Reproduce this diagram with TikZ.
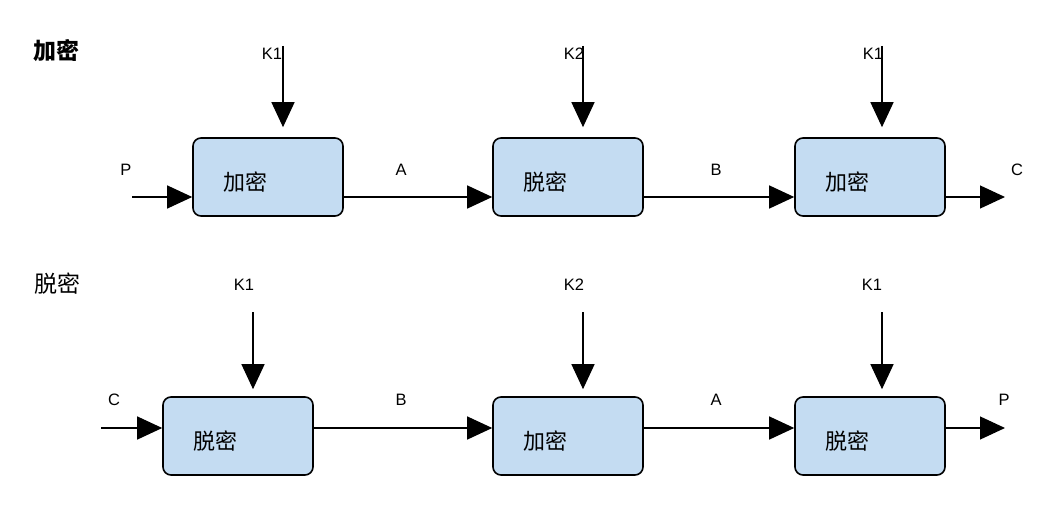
\documentclass[tikz,border=0pt]{standalone}
\usepackage{fontspec}
\setmainfont{Liberation Sans}
\newfontfamily\cjk{Noto Sans CJK SC}
\usetikzlibrary{arrows.meta,positioning}
\definecolor{INK}{HTML}{000000}
\definecolor{BOXFILL}{HTML}{C4DCF2}

\begin{document}
\begin{tikzpicture}[x=1pt,y=-1pt]
\tikzset{blk/.style={draw=INK,line width=1.6pt,fill=BOXFILL,rounded corners=8pt,minimum width=150pt,minimum height=78pt,inner sep=0pt},
 cn/.style={font=\cjk\fontsize{22}{24}\selectfont,inner sep=0pt},
 lbl/.style={font=\fontsize{16.5}{18}\selectfont,inner sep=0pt},
 arr/.style={-{Triangle[length=25pt,width=23pt]},line width=1.2pt,INK}}
\useasboundingbox (0,0) rectangle (1060,505);
% row titles
\node[cn,font=\cjk\bfseries\fontsize{23}{25}\selectfont] (enc) at (56,51) {加密};
\node[cn,font=\cjk\fontsize{23}{25}\selectfont] (dec) at (57,284) {脱密};
% encryption row
\node[blk] (e1) at (268,177) {};
\node[blk] (e2) at (568,177) {};
\node[blk] (e3) at (870,177) {};
\node[cn] (e1t) at ([shift={(-23,5)}]e1.center) {加密};
\node[cn] (e2t) at ([shift={(-23,5)}]e2.center) {脱密};
\node[cn] (e3t) at ([shift={(-23,5)}]e3.center) {加密};
\node[lbl] (ek1) at (272,54) {K1};
\node[lbl] (ek2) at (574,54) {K2};
\node[lbl] (ek3) at (873,54) {K1};
\node[lbl] (ep) at (126,170) {P};
\node[lbl] (ea) at (401,170) {A};
\node[lbl] (eb) at (716,170) {B};
\node[lbl] (ec) at (1017,170) {C};
\coordinate (es1) at (283,46);
\coordinate (es2) at (583,46);
\coordinate (es3) at (882,46);
\coordinate (ein) at (132,197);
\coordinate (eout) at (1005,197);
\draw[arr,shorten >=10pt] (es1) -- (es1 |- e1.north);
\draw[arr,shorten >=10pt] (es2) -- (es2 |- e2.north);
\draw[arr,shorten >=10pt] (es3) -- (es3 |- e3.north);
\draw[arr] (ein) -- (ein -| e1.west);
\draw[arr] ([yshift=-20pt]e1.east) -- ([yshift=-20pt]e2.west);
\draw[arr] ([yshift=-20pt]e2.east) -- ([yshift=-20pt]e3.west);
\draw[arr] (eout -| e3.east) -- (eout);
% decryption row
\node[blk] (d1) at (238,436) {};
\node[blk] (d2) at (568,436) {};
\node[blk] (d3) at (870,436) {};
\node[cn] (d1t) at ([shift={(-23,5)}]d1.center) {脱密};
\node[cn] (d2t) at ([shift={(-23,5)}]d2.center) {加密};
\node[cn] (d3t) at ([shift={(-23,5)}]d3.center) {脱密};
\node[lbl] (dk1) at (244,285) {K1};
\node[lbl] (dk2) at (574,285) {K2};
\node[lbl] (dk3) at (872,285) {K1};
\node[lbl] (dc) at (114,400) {C};
\node[lbl] (db) at (401,400) {B};
\node[lbl] (da) at (716,400) {A};
\node[lbl] (dp) at (1004,400) {P};
\coordinate (ds1) at (253,312);
\coordinate (ds2) at (583,312);
\coordinate (ds3) at (882,312);
\coordinate (din) at (101,428);
\coordinate (dout) at (1005,428);
\draw[arr,shorten >=7pt] (ds1) -- (ds1 |- d1.north);
\draw[arr,shorten >=7pt] (ds2) -- (ds2 |- d2.north);
\draw[arr,shorten >=7pt] (ds3) -- (ds3 |- d3.north);
\draw[arr] (din) -- (din -| d1.west);
\draw[arr] ([yshift=8pt]d1.east) -- ([yshift=8pt]d2.west);
\draw[arr] ([yshift=8pt]d2.east) -- ([yshift=8pt]d3.west);
\draw[arr] (dout -| d3.east) -- (dout);
\end{tikzpicture}
\end{document}
